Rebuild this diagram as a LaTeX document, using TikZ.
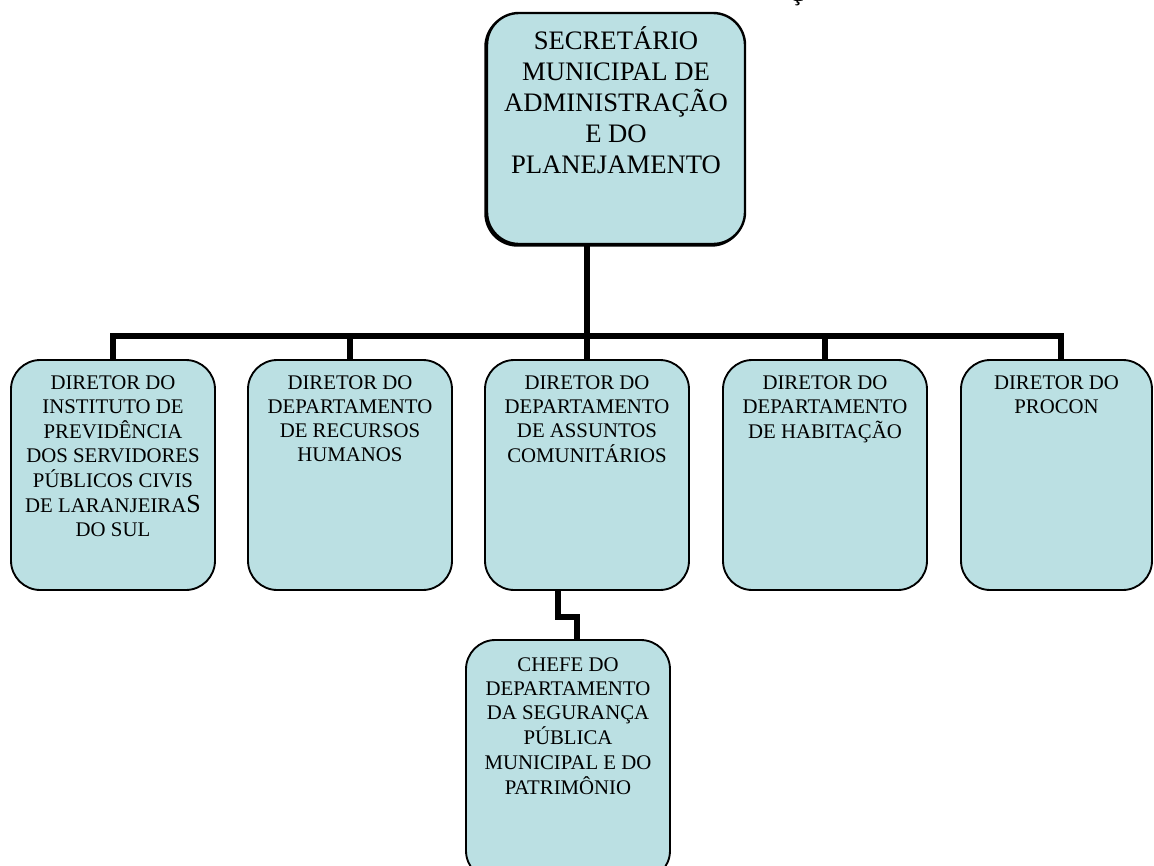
\documentclass[tikz,border=0pt]{standalone}
\usepackage{fontspec}
\setmainfont{Liberation Serif}
\usetikzlibrary{calc}
\definecolor{boxfill}{RGB}{187,224,227}
\begin{document}
\begin{tikzpicture}[x=0.75pt,y=-0.75pt,
  box/.style={draw=black, line width=1.4pt, fill=boxfill, rounded corners=22pt,
    inner sep=0pt, minimum width=153pt, minimum height=172.5pt},
  conn/.style={line width=4.5pt, line join=miter, draw=black},
  lbl/.style={anchor=base, inner sep=0pt, font=\fontsize{15.6}{18.2}\selectfont},
  toplbl/.style={anchor=base, inner sep=0pt, font=\fontsize{20}{23}\selectfont}]
\useasboundingbox (0,0) rectangle (1154,865);
\clip (0,0) rectangle (1154,865);

% clipped fragment of a title above the picture
\node[anchor=base, inner sep=0pt, font=\bfseries\fontsize{16}{18}\selectfont] (ced) at (797,1) {Ç};

% boxes
\node[box, minimum width=193.5pt, minimum height=173.25pt, line width=1.8pt, rounded corners=24pt, fill=black] (topshadow) at (614.5,130) {};
\node[box, minimum width=193.5pt, minimum height=173.25pt, line width=1.8pt, rounded corners=24pt] (top) at (616,128.5) {};
\node[box] (b1) at (113,475) {};
\node[box] (b2) at (350,475) {};
\node[box] (b3) at (587,475) {};
\node[box] (b4) at (825,475) {};
\node[box, minimum width=143.25pt] (b5) at (1056.5,475) {};
\node[box, minimum height=180pt] (b6) at (568,760) {};

% texts
\node[toplbl] (ttop) at ($(top.north)+(0,38)$) {\begin{tabular}[t]{@{}c@{}}SECRETÁRIO\\MUNICIPAL DE\\ADMINISTRAÇÃO\\E DO\\PLANEJAMENTO\end{tabular}};
\node[lbl] (t1) at ($(b1.north)+(0,30)$) {\begin{tabular}[t]{@{}c@{}}DIRETOR DO\\INSTITUTO DE\\PREVIDÊNCIA\\DOS SERVIDORES\\PÚBLICOS CIVIS\\DE LARANJEIRA{\fontsize{19.5}{18.2}\selectfont S}\\DO SUL\end{tabular}};
\node[lbl] (t2) at ($(b2.north)+(0,30)$) {\begin{tabular}[t]{@{}c@{}}DIRETOR DO\\DEPARTAMENTO\\DE RECURSOS\\HUMANOS\end{tabular}};
\node[lbl] (t3) at ($(b3.north)+(0,30)$) {\begin{tabular}[t]{@{}c@{}}DIRETOR DO\\DEPARTAMENTO\\DE ASSUNTOS\\COMUNITÁRIOS\end{tabular}};
\node[lbl] (t4) at ($(b4.north)+(0,30)$) {\begin{tabular}[t]{@{}c@{}}DIRETOR DO\\DEPARTAMENTO\\DE HABITAÇÃO\end{tabular}};
\node[lbl] (t5) at ($(b5.north)+(0,30)$) {\begin{tabular}[t]{@{}c@{}}DIRETOR DO\\PROCON\end{tabular}};
\node[lbl] (t6) at ($(b6.north)+(0,32)$) {\begin{tabular}[t]{@{}c@{}}CHEFE DO\\DEPARTAMENTO\\DA SEGURANÇA\\PÚBLICA\\MUNICIPAL E DO\\PATRIMÔNIO\end{tabular}};

% connectors
\coordinate (bar) at (0,336);
\coordinate (d5) at ($(b5.north)+(4.5,0)$);
\draw[conn] (top.south -| b3.north) -- (b3.north);
\draw[conn] (b1.north) -- (b1.north |- bar) -- (d5 |- bar) -- (d5);
\draw[conn] (b2.north) -- (b2.north |- bar);
\draw[conn] (b4.north) -- (b4.north |- bar);
\draw[conn] ($(b3.south)+(-29,0)$) |- ($(b6.north)+(9,-22)$) -- ($(b6.north)+(9,0)$);
\end{tikzpicture}
\end{document}
